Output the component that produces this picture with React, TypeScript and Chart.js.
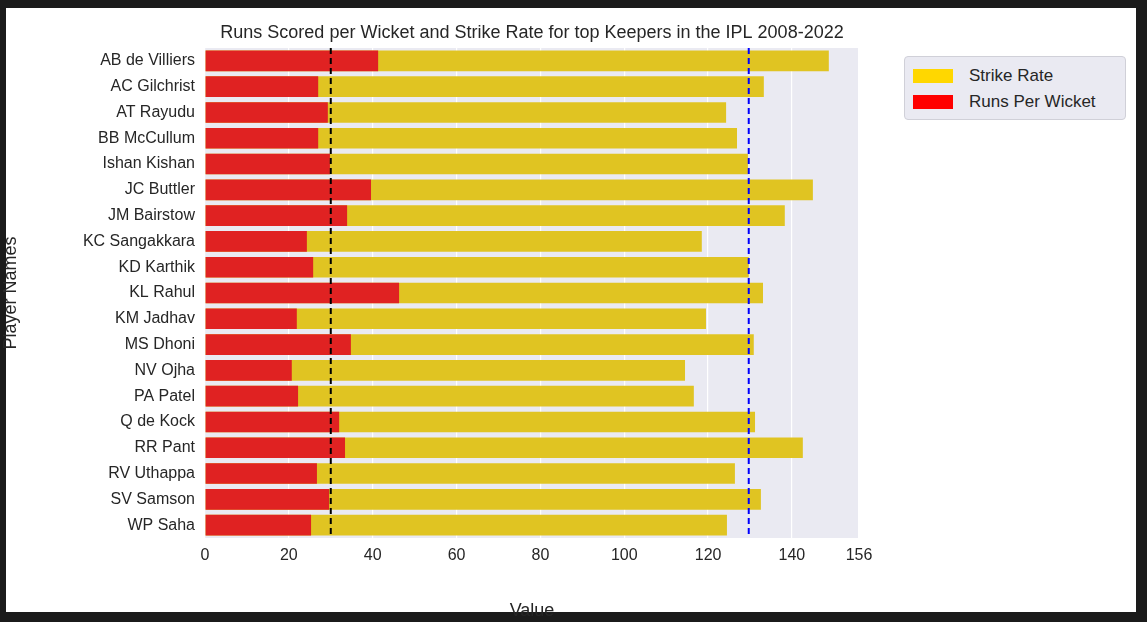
import { useEffect, useRef } from "react";
import { Chart, registerables } from "chart.js";

Chart.register(...registerables);

const PLAYERS = [
  "AB de Villiers", "AC Gilchrist", "AT Rayudu", "BB McCullum", "Ishan Kishan",
  "JC Buttler", "JM Bairstow", "KC Sangakkara", "KD Karthik", "KL Rahul",
  "KM Jadhav", "MS Dhoni", "NV Ojha", "PA Patel", "Q de Kock",
  "RR Pant", "RV Uthappa", "SV Samson", "WP Saha",
];
const STRIKE_RATE = [
  148.8, 133.3, 124.3, 126.9, 129.5, 145.0, 138.3, 118.5, 129.7, 133.1,
  119.5, 130.9, 114.5, 116.6, 131.2, 142.6, 126.4, 132.6, 124.5,
];
const RUNS_PER_WICKET = [
  41.3, 27.0, 29.3, 27.0, 29.8, 39.6, 33.9, 24.3, 25.8, 46.3,
  21.9, 34.8, 20.7, 22.2, 32.0, 33.4, 26.7, 29.6, 25.3,
];
const AVG_RPW = 30.0;
const AVG_SR = 129.7;

const FONT = "'Liberation Sans', Arial, sans-serif";

export default function App() {
  const canvasRef = useRef<HTMLCanvasElement>(null);

  useEffect(() => {
    if (!canvasRef.current) return;

    const frame = {
      id: "frame",
      beforeDraw(chart: Chart) {
        const { ctx, chartArea: a } = chart;
        ctx.save();
        ctx.fillStyle = "#1b1b1b";
        ctx.fillRect(0, 0, chart.width, chart.height);
        ctx.fillStyle = "#fff";
        ctx.fillRect(6, 8, 1130, 604);
        ctx.fillStyle = "#eaeaf2";
        ctx.fillRect(a.left, a.top, a.right - a.left, a.bottom - a.top);
        ctx.restore();
      },
      afterDatasetsDraw(chart: Chart) {
        const { ctx, chartArea: a, scales } = chart;
        ctx.save();
        ctx.lineWidth = 2;
        ctx.setLineDash([6, 4]);
        [[AVG_RPW, "#000"], [AVG_SR, "#0000ff"]].forEach(([v, c]) => {
          const x = scales.x.getPixelForValue(v as number);
          ctx.strokeStyle = c as string;
          ctx.beginPath();
          ctx.moveTo(x, a.top);
          ctx.lineTo(x, a.bottom);
          ctx.stroke();
        });
        ctx.setLineDash([]);
        ctx.fillStyle = "#262626";
        ctx.font = `18px ${FONT}`;
        ctx.textAlign = "center";
        ctx.fillText(
          "Runs Scored per Wicket and Strike Rate for top Keepers in the IPL 2008-2022",
          (a.left + a.right) / 2, 38,
        );
        ctx.restore();
      },
    };

    const chart = new Chart(canvasRef.current, {
      type: "bar",
      data: {
        labels: PLAYERS,
        datasets: [
          { label: "Strike Rate", data: STRIKE_RATE, backgroundColor: "#e0c422", order: 1, grouped: false, barPercentage: 0.8, categoryPercentage: 1 } as any,
          { label: "Runs Per Wicket", data: RUNS_PER_WICKET, backgroundColor: "#e02222", order: 0, grouped: false, barPercentage: 0.8, categoryPercentage: 1 } as any,
        ],
      },
      options: {
        indexAxis: "y",
        animation: false,
        responsive: false,
        layout: { padding: { top: 48, right: 288, left: 0, bottom: 0 } },
        plugins: { legend: { display: false }, tooltip: { enabled: false } },
        scales: {
          x: {
            min: 0, max: 156,
            ticks: { stepSize: 20, color: "#262626", font: { family: FONT, size: 16 }, padding: 8 },
            grid: { color: "#fff", lineWidth: 1.2, drawTicks: false },
            border: { display: false },
            title: { display: true, text: "Value", color: "#262626", font: { family: FONT, size: 18 }, padding: 0 },
            afterFit: (s: any) => { s.height = 84; },
          },
          y: {
            ticks: { color: "#262626", font: { family: FONT, size: 16 }, padding: 10 },
            grid: { display: false, drawTicks: false },
            border: { display: false },
            title: { display: true, text: "Player Names", color: "#262626", font: { family: FONT, size: 18 }, padding: 0 },
            afterFit: (s: any) => { s.width = 205; },
          },
        },
      },
      plugins: [frame],
    });
    return () => chart.destroy();
  }, []);

  return (
    <div style={{ position: "fixed", left: 0, top: 0, width: 1147, height: 622 }}>
      <canvas ref={canvasRef} width={1147} height={622} />
      <div style={{
        position: "absolute", left: 904, top: 56, width: 222, height: 64, boxSizing: "border-box",
        background: "#eaeaf2", border: "1px solid #d0d0d8", borderRadius: 4,
        fontFamily: FONT, fontSize: 17, color: "#262626", padding: "6px 8px",
      }}>
        {[["Strike Rate", "#ffd700"], ["Runs Per Wicket", "#ff0000"]].map(([t, c]) => (
          <div key={t} style={{ display: "flex", alignItems: "center", height: 26 }}>
            <span style={{ width: 40, height: 14, background: c, marginRight: 16, display: "inline-block" }} />
            {t}
          </div>
        ))}
      </div>
    </div>
  );
}
